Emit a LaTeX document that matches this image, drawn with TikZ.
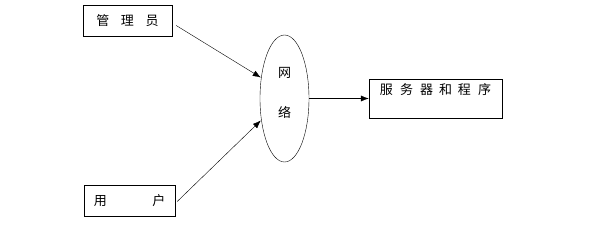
\documentclass[tikz,border=0pt]{standalone}
\usepackage{fontspec}
\setmainfont{Noto Sans CJK SC}
\usetikzlibrary{shapes.geometric, arrows.meta, positioning}

\begin{document}
\begin{tikzpicture}[
  x=1pt, y=-1pt,
  block/.style={rectangle, draw, thin, inner sep=0pt, font=\fontsize{13}{15}\selectfont},
  net/.style={ellipse, draw, thin, inner sep=0pt, minimum width=49pt, minimum height=127pt, align=center, font=\fontsize{13}{15}\selectfont},
  arrow/.style={-{Latex[length=8pt,width=6pt]}, thin}
]
\useasboundingbox (0,0) rectangle (611,226);

% Input boxes
\node[block, minimum width=89pt, minimum height=31pt] (mgr) at (127.5,20.5) {管\hspace{0.9em}理\hspace{0.9em}员};
\node[block, minimum width=91pt, minimum height=31pt] (usr) at (129.5,200.5) {用\hspace{3.5em}户\hspace{0.5em}};

% Network
\node[net] (wang) at (284.5,98.5) {\raisebox{12pt}{网}\\[16pt]\raisebox{12pt}{络}};

% Server
\node[block, minimum width=133pt, text height=15pt, text depth=24pt] (srv) at (435.5,98.5) {服\hspace{0.55em}务\hspace{0.55em}器\hspace{0.45em}和\hspace{0.45em}程\hspace{0.55em}序};

% Arrows
\draw[arrow] ([xshift=4pt,yshift=-5pt]mgr.east) -- ([xshift=1pt,yshift=21pt]wang.west);
\draw[arrow] ([xshift=2pt,yshift=-1pt]usr.east) -- ([xshift=1pt,yshift=-22pt]wang.west);
\draw[arrow] (wang.east) -- (srv.west);

\end{tikzpicture}
\end{document}
